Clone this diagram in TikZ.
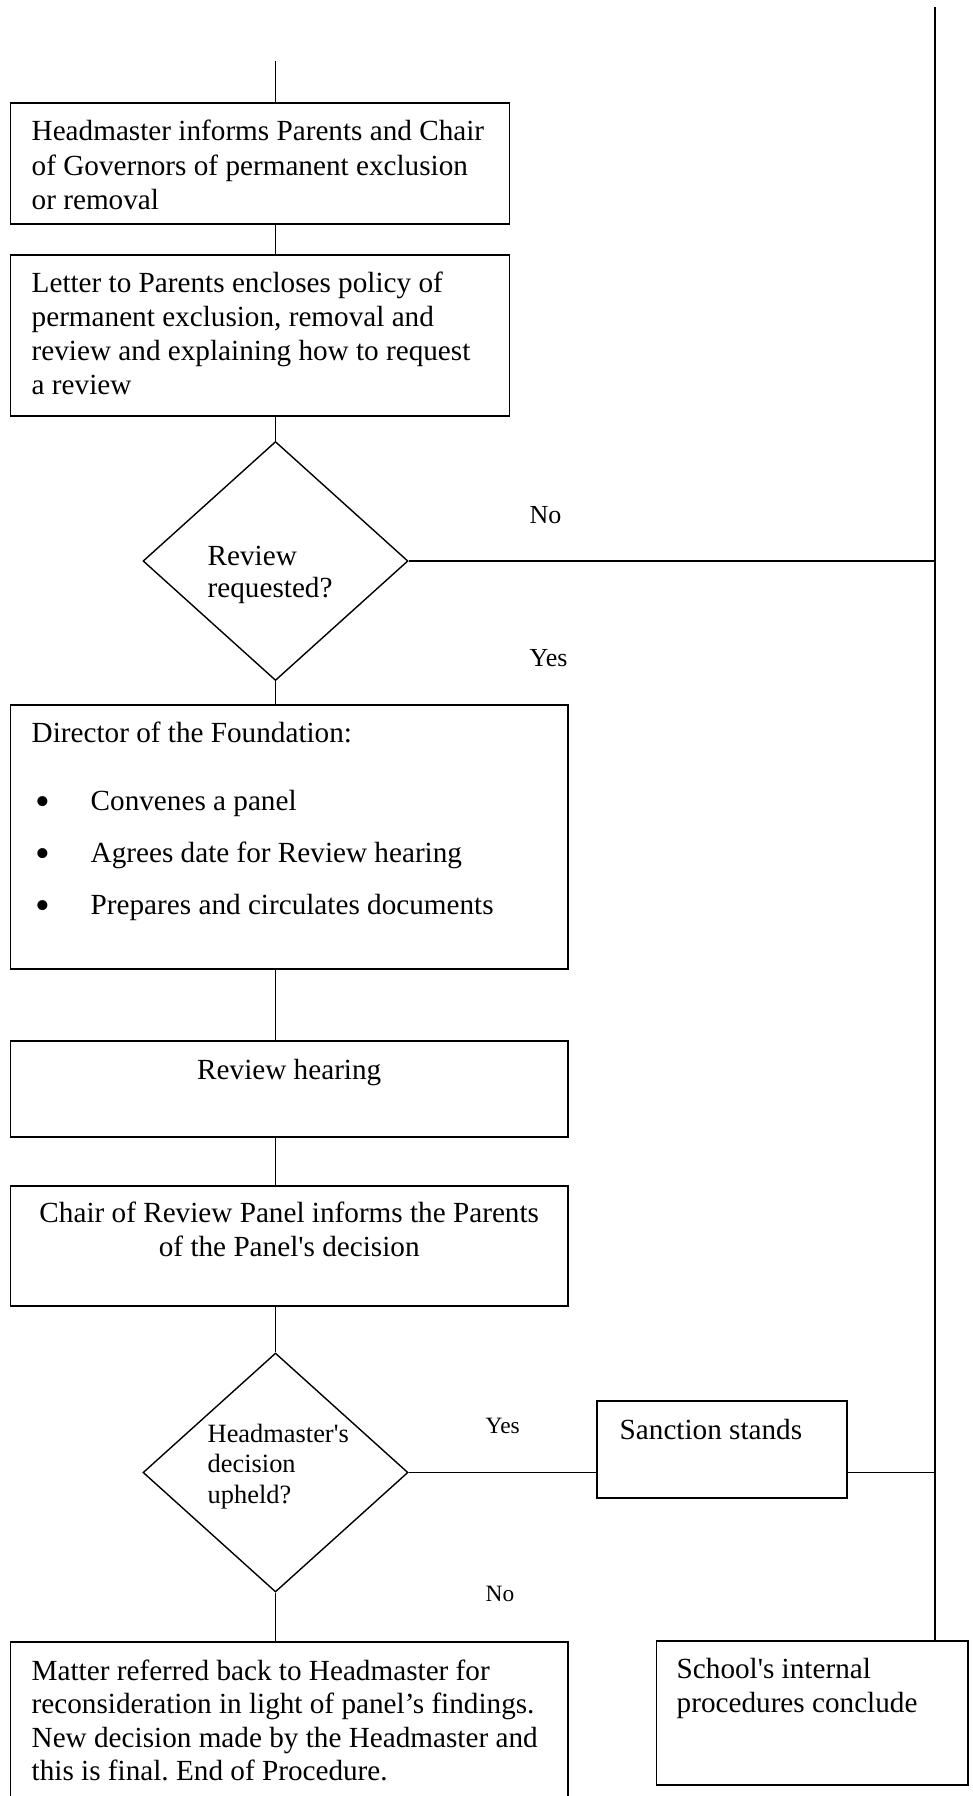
\documentclass[tikz,border=0pt]{standalone}
\usepackage{fontspec}
\setmainfont{Liberation Serif}
\usetikzlibrary{shapes.geometric}
\frenchspacing
\begin{document}
\begin{tikzpicture}[x=0.5pt,y=-0.5pt,
  line width=0.7pt,
  box/.style={draw,rectangle,inner sep=0pt},
  dia/.style={draw,diamond,inner sep=0pt,minimum width=132.5pt,minimum height=119.5pt},
  txt/.style={anchor=base west,inner sep=0pt,font=\fontsize{14.6}{17}\selectfont},
  bul/.style={anchor=base west,inner sep=0pt,font=\fontsize{21}{24}\selectfont},
  ctxt/.style={anchor=base,inner sep=0pt,font=\fontsize{14.6}{17}\selectfont},
  stxt/.style={anchor=base west,inner sep=0pt,font=\fontsize{13.2}{15.5}\selectfont},
  lbl/.style={anchor=base west,inner sep=0pt,font=\fontsize{13}{15}\selectfont},
  slbl/.style={anchor=base west,inner sep=0pt,font=\fontsize{11.7}{14}\selectfont}]
\useasboundingbox (0,0) rectangle (973,1796);
\clip (0,0) rectangle (973,1796);

% boxes
\node[box,minimum width=249.5pt,minimum height=60.5pt] (b1) at (260,163.5) {};
\node[box,minimum width=249.5pt,minimum height=80.5pt] (b2) at (260,335.5) {};
\node[dia] (d1) at (275.5,561) {};
\node[box,minimum width=278.75pt,minimum height=132pt] (b3) at (289.25,837) {};
\node[box,minimum width=278.75pt,minimum height=48pt] (b4) at (289.25,1089) {};
\node[box,minimum width=278.75pt,minimum height=60pt] (b5) at (289.25,1246) {};
\node[dia] (d2) at (275.5,1472.5) {};
\node[box,minimum width=125pt,minimum height=48.5pt] (sanc) at (722,1449.5) {};
\node[box,minimum width=155.75pt,minimum height=72pt] (school) at (812.25,1713) {};
\node[box,minimum width=278.75pt,minimum height=98pt] (matter) at (289.25,1740) {};

\coordinate (start) at (275.5,61);
\coordinate (rtop) at (935,7);

% connectors
\draw (start) -- (start |- b1.north);
\draw (start |- b1.south) -- (start |- b2.north);
\draw (start |- b2.south) -- (d1.north);
\draw (d1.south) -- (start |- b3.north);
\draw (start |- b3.south) -- (start |- b4.north);
\draw (start |- b4.south) -- (start |- b5.north);
\draw (start |- b5.south) -- (d2.north);
\draw (d2.south) -- (start |- matter.north);
\draw (d1.east) -- (d1.east -| rtop);
\draw (rtop) -- (rtop |- school.north);
\draw (d2.east) -- (d2.east -| sanc.west);
\draw (d2.east -| sanc.east) -- (d2.east -| rtop);

% texts
\node[txt] (t1a) at (31,140) {Headmaster informs Parents and Chair};
\node[txt] (t1b) at (31,175) {of Governors of permanent exclusion};
\node[txt] (t1c) at (31,209) {or removal};

\node[txt] (t2a) at (31,292) {Letter to Parents encloses policy of};
\node[txt] (t2b) at (31,326) {permanent exclusion, removal and};
\node[txt] (t2c) at (31,360) {review and explaining how to request};
\node[txt] (t2d) at (31,394) {a review};

\node[txt] (q1a) at (207,565) {Review};
\node[txt] (q1b) at (207,597.5) {requested?};
\node[lbl] (no1) at (529,523) {No};
\node[lbl] (yes1) at (529,666) {Yes};

\node[txt] (t3a) at (31,742.5) {Director of the Foundation:};
\node[bul] (bu1) at (35,815) {•};
\node[txt] (t3b) at (90,810) {Convenes a panel};
\node[bul] (bu2) at (35,867) {•};
\node[txt] (t3c) at (90,862) {Agrees date for Review hearing};
\node[bul] (bu3) at (35,919) {•};
\node[txt] (t3d) at (90,914) {Prepares and circulates documents};

\node[ctxt] (t4) at (289.25,1079) {Review hearing};

\node[ctxt] (t5a) at (289.25,1222) {Chair of Review Panel informs the Parents};
\node[ctxt] (t5b) at (289.25,1256) {of the Panel\textquotesingle s decision};

\node[stxt] (q2a) at (207,1442) {Headmaster\textquotesingle s};
\node[stxt] (q2b) at (207,1472) {decision};
\node[stxt] (q2c) at (207,1503) {upheld?};
\node[slbl] (yes2) at (485,1433) {Yes};
\node[slbl] (no2) at (485,1601) {No};

\node[txt] (ts) at (619,1439) {Sanction stands};

\node[txt] (tma) at (31,1680) {Matter referred back to Headmaster for};
\node[txt] (tmb) at (31,1713.5) {reconsideration in light of panel’s findings.};
\node[txt] (tmc) at (31,1747) {New decision made by the Headmaster and};
\node[txt] (tmd) at (31,1780) {this is final. End of Procedure.};

\node[txt] (tsa) at (676,1678) {School\textquotesingle s internal};
\node[txt] (tsb) at (676,1712) {procedures conclude};
\end{tikzpicture}
\end{document}
